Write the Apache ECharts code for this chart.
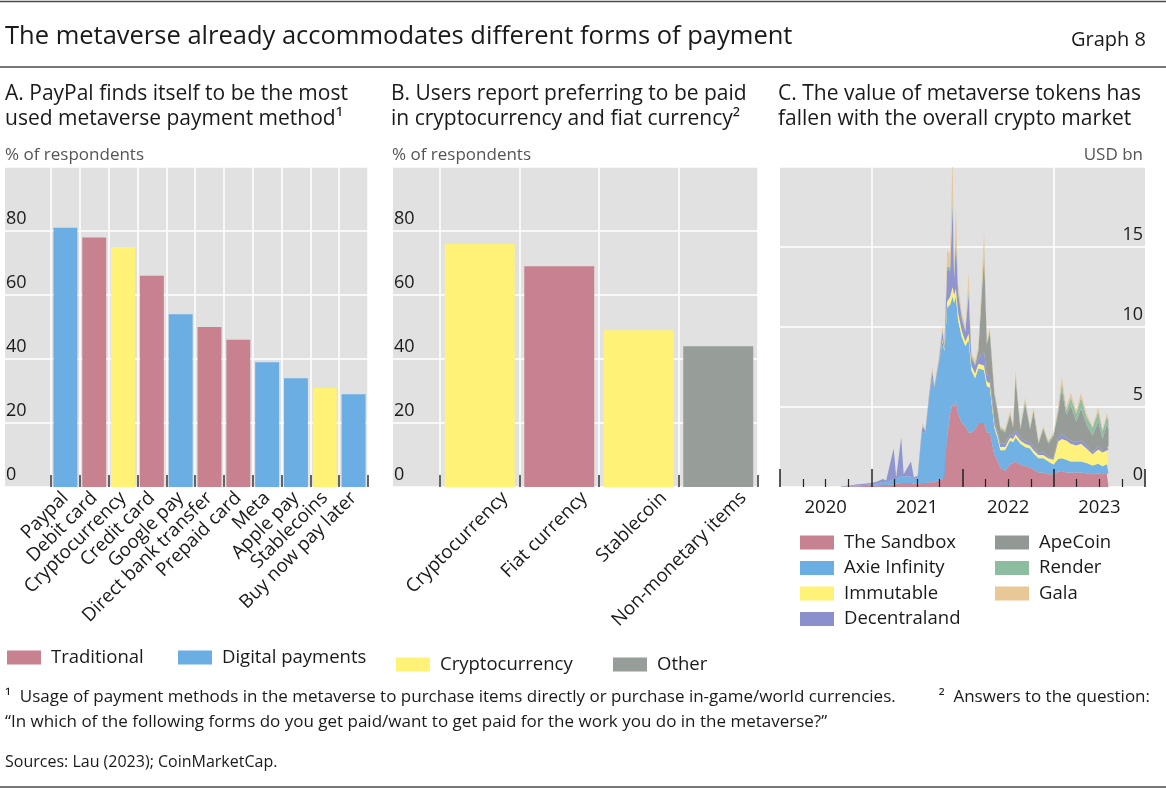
<!DOCTYPE html>
<html>
<head>
<meta charset="utf-8">
<script src="https://cdn.jsdelivr.net/npm/echarts@6/dist/echarts.min.js"></script>
<style>
  html, body { margin: 0; padding: 0; background: #fff; }
  #chart { width: 1166px; height: 790px; }
</style>
</head>
<body>
<div id="chart"></div>
<script>
// Panel A: payment methods used in the metaverse
var methods = ['Paypal', 'Debit card', 'Cryptocurrency', 'Credit card', 'Google pay', 'Direct bank transfer',
  'Prepaid card', 'Meta', 'Apple pay', 'Stablecoins', 'Buy now pay later'];
var methodShare = [81, 78, 75, 66, 54, 50, 46, 39, 34, 31, 29];
var methodType = ['Digital payments', 'Traditional', 'Cryptocurrency', 'Traditional', 'Digital payments', 'Traditional',
  'Traditional', 'Digital payments', 'Digital payments', 'Cryptocurrency', 'Digital payments'];

// Panel B: preferred forms of being paid
var payForms = ['Cryptocurrency', 'Fiat currency', 'Stablecoin', 'Non-monetary items'];
var payShare = [76, 69, 49, 44];
var payType = ['Cryptocurrency', 'Traditional', 'Cryptocurrency', 'Other'];

var percentTicks = [0, 20, 40, 60, 80];
var usdTicks = [0, 5, 10, 15];
var yearLabels = [2020, 2021, 2022, 2023];

// Panel C: market value of metaverse tokens, USD bn
var tokenDates = ['2020-09-01', '2020-10-01', '2020-11-01', '2020-12-01', '2021-01-01', '2021-01-25', '2021-02-15',
  '2021-03-01', '2021-03-31', '2021-04-10', '2021-04-30', '2021-05-10', '2021-06-08', '2021-06-20', '2021-07-05',
  '2021-07-20', '2021-07-25', '2021-08-05', '2021-08-20', '2021-09-01', '2021-09-10', '2021-09-28', '2021-10-12',
  '2021-10-20', '2021-10-31', '2021-11-12', '2021-11-22', '2021-11-28', '2021-12-05', '2021-12-14', '2021-12-28',
  '2022-01-12', '2022-01-25', '2022-02-05', '2022-02-20', '2022-03-05', '2022-03-28', '2022-04-08', '2022-04-20',
  '2022-05-08', '2022-05-20', '2022-06-01', '2022-06-20', '2022-07-10', '2022-07-22', '2022-08-01', '2022-08-20',
  '2022-09-08', '2022-09-28', '2022-10-12', '2022-11-01', '2022-11-20', '2022-12-10', '2022-12-31', '2023-01-18',
  '2023-02-02', '2023-02-20', '2023-03-10', '2023-04-01', '2023-04-20', '2023-05-12', '2023-06-05', '2023-06-28',
  '2023-07-15', '2023-08-01', '2023-08-08'];
var sandbox = [.02, .04, .05, .06, .07, .10, .12, .12, .15, .20, .25, .25, .25, .20, .20,
  .25, .25, .25, .30, .30, .30, .40, .50, .60, 3.1, 4.6, 5.2, 5.0, 5.4, 4.6, 4.0,
  3.8, 3.4, 3.4, 3.6, 4.0, 4.0, 3.4, 3.4, 2.0, 1.7, 1.2, 1.0, 1.4, 1.5, 1.6, 1.4,
  1.3, 1.2, 1.1, .90, .90, .80, .80, .95, 1.0, .90, .90, .90, .90, .85, .80, .85,
  .80, .85, .85];
var axie = [.01, .02, .04, .06, .08, .12, .20, .16, .35, .30, .45, .40, .40, .30, .35,
  2.9, 3.2, 3.15, 5.3, 6.5, 5.8, 7.3, 8.6, 7.9, 8.1, 6.8, 6.7, 6.5, 6.5, 5.8, 5.4,
  5.0, 5.8, 3.9, 3.2, 3.4, 3.3, 2.9, 2.8, 1.7, 1.4, 1.1, 1.3, 1.5, 1.3, 1.5, 1.3,
  1.2, 1.2, 1.0, .90, .90, .80, .60, .80, .80, .80, .70, .70, .70, .65, .55, .60,
  .50, .60, .60];
var immutable = [0, 0, 0, 0, 0, 0, 0, 0, 0, 0, 0, 0, 0, 0, 0,
  0, 0, 0, 0, 0, 0, 0, .10, .10, .40, .50, .60, .50, .50, .50, .40,
  .30, .40, .30, .30, .30, .30, .30, .30, .20, .20, .20, .20, .20, .20, .20, .20,
  .20, .20, .20, .20, .20, .20, .30, 1.1, 1.2, 1.2, 1.1, 1.0, 1.1, .90, .70, .90,
  .85, .90, .90];
var decentraland = [.02, .04, .06, .08, .10, .13, .18, .12, 1.9, .10, 2.4, .15, .95, .10, .15,
  .15, .35, .10, .15, .40, .15, .20, .50, .20, 2.0, 1.6, 5.0, 1.0, 3.0, 1.2, .80,
  .60, 2.4, .50, .50, .40, .80, .40, .40, .30, .20, .20, .20, .20, .20, .30, .20,
  .20, .20, .20, .10, .20, .10, .10, .20, .30, .20, .20, .20, .20, .20, .10, .20,
  .10, .20, .20];
var apecoin = [0, 0, 0, 0, 0, 0, 0, 0, 0, 0, 0, 0, 0, 0, 0,
  0, 0, 0, 0, 0, 0, 0, 0, 0, 0, 0, 0, 0, 0, 0, 0,
  0, 0, 0, 0, .40, 6.0, 1.9, 2.7, 1.6, 1.3, .90, .70, 1.2, .50, 3.2, .50,
  2.3, .80, 2.2, .60, 1.4, .80, 1.4, 1.55, 2.8, 1.4, 2.2, 1.3, 2.0, 1.3, 1.05, 1.55,
  .75, 1.35, 1.05];
var render = [0, 0, 0, 0, 0, 0, 0, 0, 0, 0, 0, 0, 0, 0, 0,
  .05, .05, .05, .05, .10, .05, .05, .10, .05, .20, .20, .50, .10, .30, .20, .10,
  .10, .30, .10, .10, .10, .30, .10, .20, .10, .10, .10, .10, .10, .10, .20, .10,
  .20, .10, .10, .10, .10, .10, .10, .20, .40, .30, .50, .50, .70, .50, .50, .60,
  .50, .50, .50];
var gala = [0, 0, 0, 0, 0, 0, 0, 0, 0, 0, 0, 0, 0, 0, 0,
  .05, .15, .05, .10, .20, .10, .15, .30, .15, 1.0, .90, 3.0, .40, 1.8, .40, .30,
  .20, 1.1, .20, .20, .20, 1.2, .20, .20, .10, .10, .10, .10, .20, .10, .30, .10,
  .20, .10, .20, .10, .10, .10, .10, .20, .40, .20, .30, .20, .30, .20, .10, .30,
  .10, .20, .20];

var colors = {
  'Traditional': '#c8818f',
  'Digital payments': '#6aaee3',
  'Cryptocurrency': '#fff277',
  'Other': '#979d98',
  'The Sandbox': '#c8818f',
  'Axie Infinity': '#6aaee3',
  'Immutable': '#fff277',
  'Decentraland': '#8a90cc',
  'ApeCoin': '#929893',
  'Render': '#8dbda0',
  'Gala': '#e9c797'
};
var FONT = 'Open Sans';
var INK = '#1a1a1a';
var BG = '#e1e1e1';

function pick(values, types, t) {
  return values.map(function (v, i) { return types[i] === t ? v : null; });
}

// white horizontal grid + labels, drawn on a grid wider than the bars
function percentAxis(gridIndex) {
  return {
    gridIndex: gridIndex, type: 'value', min: 0, max: 100, interval: 20,
    axisLine: { show: false }, axisTick: { show: false },
    splitLine: { lineStyle: { color: '#fff', width: 1.5 } },
    axisLabel: {
      inside: true, margin: 1, verticalAlign: 'bottom', padding: [0, 0, 3, 0],
      fontSize: 18, color: INK, fontFamily: FONT,
      formatter: function (v) { return percentTicks.indexOf(v) >= 0 ? String(v) : ''; }
    }
  };
}
function hiddenAxis(gridIndex, min, max) {
  return { gridIndex: gridIndex, type: 'value', min: min, max: max, show: false };
}
function catAxis(gridIndex, data, showLabel, showLines) {
  return {
    gridIndex: gridIndex, type: 'category', data: data,
    axisLine: { show: false },
    axisTick: { show: showLines, inside: true, length: 12, lineStyle: { color: '#333', width: 1.5 } },
    splitLine: { show: showLines, lineStyle: { color: '#fff', width: 1.5 } },
    axisLabel: { show: showLabel, interval: 0, rotate: 45, fontSize: 18.8, color: INK, fontFamily: FONT, margin: 8 }
  };
}

var series = [];
['Traditional', 'Digital payments', 'Cryptocurrency'].forEach(function (t) {
  series.push({
    name: t, type: 'bar', xAxisIndex: 1, yAxisIndex: 1, stack: 'a', barCategoryGap: '17%',
    itemStyle: { color: colors[t] }, data: pick(methodShare, methodType, t)
  });
});
['Cryptocurrency', 'Traditional', 'Other'].forEach(function (t) {
  series.push({
    name: t, type: 'bar', xAxisIndex: 3, yAxisIndex: 3, stack: 'b', barCategoryGap: '12%',
    itemStyle: { color: colors[t] }, data: pick(payShare, payType, t)
  });
});
[['The Sandbox', sandbox], ['Axie Infinity', axie], ['Immutable', immutable], ['Decentraland', decentraland],
 ['ApeCoin', apecoin], ['Render', render], ['Gala', gala]].forEach(function (s) {
  series.push({
    name: s[0], type: 'line', xAxisIndex: 8, yAxisIndex: 4, stack: 'tok',
    showSymbol: false, symbol: 'none', lineStyle: { width: 0 }, itemStyle: { color: colors[s[0]] },
    areaStyle: { color: colors[s[0]], opacity: 0.95 }, z: 3,
    data: tokenDates.map(function (d, i) { return [d, s[1][i]]; })
  });
});

function legendAt(names, left, top, orient) {
  return {
    data: names, left: left, top: top, orient: orient || 'horizontal', icon: 'rect', padding: 0,
    itemWidth: 34, itemHeight: 14, itemGap: 6.5, selectedMode: false,
    textStyle: { fontSize: 18.5, lineHeight: 18, color: INK, fontFamily: FONT, padding: [0, 0, 0, 5] }
  };
}

function txt(x, y, text, size, opts) {
  return {
    type: 'text', x: x, y: y, silent: true,
    style: Object.assign({ text: text, font: size + 'px "' + FONT + '"', fill: INK, verticalAlign: 'middle', align: 'left' }, opts || {})
  };
}
function rule(y) {
  return { type: 'line', shape: { x1: 0, y1: y, x2: 1166, y2: y }, style: { stroke: '#4a4a4a', lineWidth: 1.5 }, silent: true };
}

var option = {
  animation: false,
  textStyle: { fontFamily: FONT },
  grid: [
    { left: 5, top: 167, width: 363, height: 320, show: true, backgroundColor: BG, borderWidth: 0 },
    { left: 51, top: 167, width: 317, height: 320 },
    { left: 393, top: 167, width: 365, height: 320, show: true, backgroundColor: BG, borderWidth: 0 },
    { left: 440, top: 167, width: 318, height: 320 },
    { left: 780, top: 167, width: 365, height: 320, show: true, backgroundColor: BG, borderWidth: 0 },
    // label-only copy of panel B's category axis, set a little to the right as in the original
    { left: 465, top: 167, width: 318, height: 320 }
  ],
  xAxis: [
    hiddenAxis(0, 0, 1),
    catAxis(1, methods, true, true),
    hiddenAxis(2, 0, 1),
    catAxis(3, payForms, false, true),
    catAxis(5, payForms, true, false),
    {
      // year / quarter ticks, drawn over the areas
      gridIndex: 4, type: 'value', min: 2020, max: 2024, interval: 1, position: 'bottom',
      axisLine: { show: false },
      axisTick: { show: true, inside: true, length: 18, lineStyle: { color: '#222', width: 1.5 } },
      minorTick: { show: true, splitNumber: 4, length: 8, lineStyle: { color: '#222', width: 1.2 } },
      splitLine: { show: false }, axisLabel: { show: false }, z: 5
    },
    {
      // year labels centred on each year; white lines at every other year start
      gridIndex: 4, type: 'value', min: 2020, max: 2024, interval: 0.5, position: 'bottom',
      axisLine: { show: false }, axisTick: { show: false },
      splitLine: { show: true, lineStyle: { color: ['rgba(0,0,0,0)', 'rgba(0,0,0,0)', '#ffffff', 'rgba(0,0,0,0)'], width: 1.5 } },
      axisLabel: {
        margin: 11, fontSize: 18.5, color: INK, fontFamily: FONT,
        formatter: function (v) {
          var y = Math.floor(v);
          return (Math.abs(v - y - 0.5) < 1e-6 && yearLabels.indexOf(y) >= 0) ? String(y) : '';
        }
      }
    },
    hiddenAxis(5, 0, 1),
    { gridIndex: 4, type: 'time', min: '2020-01-01', max: '2024-01-01', show: false }
  ],
  yAxis: [
    percentAxis(0),
    hiddenAxis(1, 0, 100),
    percentAxis(2),
    hiddenAxis(3, 0, 100),
    {
      gridIndex: 4, type: 'value', position: 'right', min: 0, max: 20, interval: 5,
      axisLine: { show: false }, axisTick: { show: false },
      splitLine: { lineStyle: { color: '#fff', width: 1.5 } },
      axisLabel: {
        inside: true, margin: 2, verticalAlign: 'bottom', padding: [0, 0, 3, 0],
        fontSize: 18, color: INK, fontFamily: FONT,
        formatter: function (v) { return usdTicks.indexOf(v) >= 0 ? String(v) : ''; }
      }
    },
    hiddenAxis(5, 0, 100)
  ],
  legend: [
    legendAt(['Traditional'], 7, 648),
    legendAt(['Digital payments'], 178, 648),
    legendAt(['Cryptocurrency'], 396, 655),
    legendAt(['Other'], 613, 655),
    legendAt(['The Sandbox', 'Axie Infinity', 'Immutable', 'Decentraland'], 800, 533, 'vertical'),
    legendAt(['ApeCoin', 'Render', 'Gala'], 995, 533, 'vertical')
  ],
  graphic: [
    rule(1.5), rule(67), rule(787),
    txt(5, 37, 'The metaverse already accommodates different forms of payment', 25.5),
    txt(1146, 40, 'Graph 8', 20, { align: 'right' }),
    txt(5, 94, 'A. PayPal finds itself to be the most', 21),
    txt(5, 119, 'used metaverse payment method\u00b9', 21),
    txt(391, 94, 'B. Users report preferring to be paid', 21),
    txt(391, 119, 'in cryptocurrency and fiat currency\u00b2', 21),
    txt(778, 94, 'C. The value of metaverse tokens has', 21),
    txt(778, 119, 'fallen with the overall crypto market', 21),
    txt(5, 155, '% of respondents', 17, { fill: '#555' }),
    txt(392, 155, '% of respondents', 17, { fill: '#555' }),
    txt(1143, 155, 'USD bn', 17, { fill: '#555', align: 'right' }),
    txt(5, 697, '\u00b9  Usage of payment methods in the metaverse to purchase items directly or purchase in-game/world currencies.', 17),
    txt(1150, 697, '\u00b2  Answers to the question:', 17, { align: 'right' }),
    txt(5, 722, '\u201cIn which of the following forms do you get paid/want to get paid for the work you do in the metaverse?\u201d', 17),
    txt(5, 762, 'Sources: Lau (2023); CoinMarketCap.', 16)
  ],
  series: series
};

var chart = echarts.init(document.getElementById('chart'));
chart.setOption(option);
window.onresize = function () { chart.resize(); };
</script>
</body>
</html>
